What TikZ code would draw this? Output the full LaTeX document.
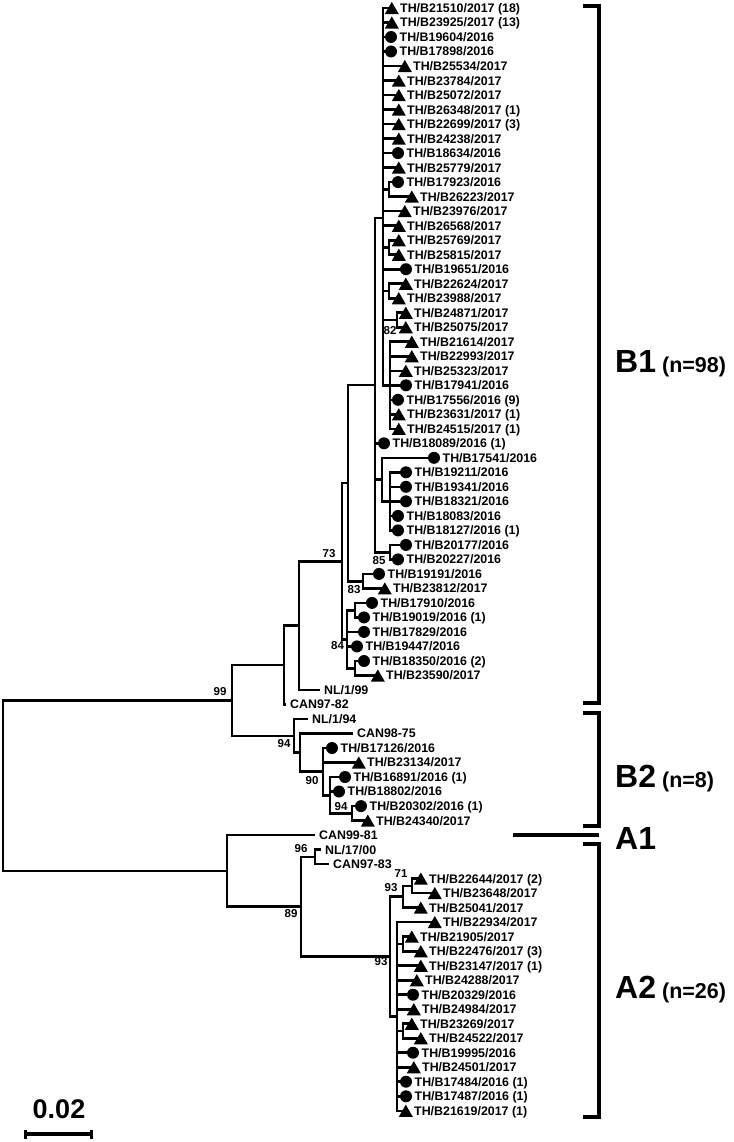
\documentclass[tikz,border=0pt]{standalone}
\usepackage{fontspec}
\setmainfont{Liberation Sans}
\usetikzlibrary{shapes.geometric}
\newcommand\leafC[4]{\coordinate (#1m) at ({#2+6},#3);
  \node[mcirc] (#1d) at (#1m) {};
  \node[lbl] (#1) at ({#2+14.5},#3) {#4};}
\newcommand\leafT[4]{\coordinate (#1m) at ({#2+6.8},#3);
  \node[mtri] (#1d) at ({#2+6.8},{#3+2.0}) {};
  \node[lbl] (#1) at ({#2+15},#3) {#4};}
\newcommand\leafN[4]{\coordinate (#1m) at (#2,#3);
  \node[lbl] (#1) at ({#2+4},#3) {#4};}
\newcommand\kids[2]{\foreach \kd in {#2} {\draw[tr] (#1) |- (\kd);}}
\begin{document}
\begin{tikzpicture}[x=1pt,y=-1pt,
  tr/.style={line width=2.6pt},
  brk/.style={line width=3.8pt},
  lbl/.style={font=\fontsize{12.4}{12.4}\selectfont\bfseries, anchor=west, inner sep=0pt, text height=8.9pt, text depth=0pt},
  bs/.style={font=\fontsize{11.5}{11.5}\selectfont\bfseries, inner sep=0pt, text height=8.3pt, text depth=0pt},
  mcirc/.style={circle, fill=black, inner sep=0pt, minimum size=12pt},
  mtri/.style={regular polygon, regular polygon sides=3, fill=black, inner sep=0pt, minimum size=16.2pt},
  grp/.style={font=\bfseries, anchor=base west, inner sep=0pt}
]
\fill[white] (0,0) rectangle (733,1142);
\useasboundingbox (0,0) rectangle (733,1142);

% internal nodes
\coordinate (R0) at (3,785.6);
\coordinate (NB) at (232,700.4);
\coordinate (NA) at (227,870.9);
\coordinate (NC) at (284,665.0);
\coordinate (ND) at (299,625.6);
\coordinate (N73) at (342,561.2);
\coordinate (NM) at (348,483.1);
\coordinate (NQ) at (375,385.1);
\coordinate (NP) at (383,218.0);
\coordinate (N1314) at (389,189.4);
\coordinate (N1718) at (389,247.5);
\coordinate (N2021) at (389,291.0);
\coordinate (N2223) at (397,320.0);
\coordinate (NR) at (390,385.3);
\coordinate (NV) at (382,479.6);
\coordinate (NW) at (390,501.4);
\coordinate (NX) at (390,552.2);
\coordinate (N83) at (363,581.2);
\coordinate (NY) at (347,639.2);
\coordinate (NZ) at (355,610.2);
\coordinate (NAA) at (355,668.2);
\coordinate (NB2) at (294,735.8);
\coordinate (NC1) at (300,752.6);
\coordinate (NC2) at (323,771.6);
\coordinate (NC3) at (330,795.2);
\coordinate (NC4) at (352,813.4);
\coordinate (NA2) at (301,906.7);
\coordinate (N96) at (315,856.9);
\coordinate (NT) at (390,956.6);
\coordinate (NU) at (403,896.7);
\coordinate (N71) at (412,885.9);
\coordinate (NL) at (397,1016.5);
\coordinate (NLA) at (403,943.9);
\coordinate (NLB) at (403,1031.0);

% leaves
\leafT{L1}{385}{8.0}{TH/B21510/2017 (18)}
\leafT{L2}{385}{22.5}{TH/B23925/2017 (13)}
\leafC{L3}{385}{37.0}{TH/B19604/2016}
\leafC{L4}{385}{51.5}{TH/B17898/2016}
\leafT{L5}{398}{66.0}{TH/B25534/2017}
\leafT{L6}{392}{80.6}{TH/B23784/2017}
\leafT{L7}{392}{95.1}{TH/B25072/2017}
\leafT{L8}{392}{109.6}{TH/B26348/2017 (1)}
\leafT{L9}{392}{124.1}{TH/B22699/2017 (3)}
\leafT{L10}{392}{138.6}{TH/B24238/2017}
\leafC{L11}{392}{153.1}{TH/B18634/2016}
\leafT{L12}{392}{167.6}{TH/B25779/2017}
\leafC{L13}{392}{182.1}{TH/B17923/2016}
\leafT{L14}{405}{196.6}{TH/B26223/2017}
\leafT{L15}{398}{211.1}{TH/B23976/2017}
\leafT{L16}{392}{225.7}{TH/B26568/2017}
\leafT{L17}{392}{240.2}{TH/B25769/2017}
\leafT{L18}{392}{254.7}{TH/B25815/2017}
\leafC{L19}{400}{269.2}{TH/B19651/2016}
\leafT{L20}{399}{283.7}{TH/B22624/2017}
\leafT{L21}{392}{298.2}{TH/B23988/2017}
\leafT{L22}{399}{312.7}{TH/B24871/2017}
\leafT{L23}{399}{327.2}{TH/B25075/2017}
\leafT{L24}{405}{341.7}{TH/B21614/2017}
\leafT{L25}{405}{356.2}{TH/B22993/2017}
\leafT{L26}{399}{370.8}{TH/B25323/2017}
\leafC{L27}{400}{385.3}{TH/B17941/2016}
\leafC{L28}{392}{399.8}{TH/B17556/2016 (9)}
\leafT{L29}{392}{414.3}{TH/B23631/2017 (1)}
\leafT{L30}{392}{428.8}{TH/B24515/2017 (1)}
\leafC{L31}{378}{443.3}{TH/B18089/2016 (1)}
\leafC{L32}{428}{457.8}{TH/B17541/2016}
\leafC{L33}{400}{472.3}{TH/B19211/2016}
\leafC{L34}{400}{486.8}{TH/B19341/2016}
\leafC{L35}{400}{501.3}{TH/B18321/2016}
\leafC{L36}{392}{515.9}{TH/B18083/2016}
\leafC{L37}{392}{530.4}{TH/B18127/2016 (1)}
\leafC{L38}{400}{544.9}{TH/B20177/2016}
\leafC{L39}{392}{559.4}{TH/B20227/2016}
\leafC{L40}{373}{573.9}{TH/B19191/2016}
\leafT{L41}{378}{588.4}{TH/B23812/2017}
\leafC{L42}{366}{602.9}{TH/B17910/2016}
\leafC{L43}{358}{617.4}{TH/B19019/2016 (1)}
\leafC{L44}{358}{631.9}{TH/B17829/2016}
\leafC{L45}{351}{646.4}{TH/B19447/2016}
\leafC{L46}{358}{661.0}{TH/B18350/2016 (2)}
\leafT{L47}{371}{675.5}{TH/B23590/2017}
\leafN{L48}{320}{690.0}{NL/1/99}
\leafN{L49}{286}{704.5}{CAN97-82}
\leafN{L50}{308}{719.0}{NL/1/94}
\leafN{L51}{353}{733.5}{CAN98-75}
\leafC{L52}{326}{748.0}{TH/B17126/2016}
\leafT{L53}{352}{762.5}{TH/B23134/2017}
\leafC{L54}{339}{777.0}{TH/B16891/2016 (1)}
\leafC{L55}{333}{791.5}{TH/B18802/2016}
\leafC{L56}{355}{806.1}{TH/B20302/2016 (1)}
\leafT{L57}{361}{820.6}{TH/B24340/2017}
\leafN{L58}{315}{835.1}{CAN99-81}
\leafN{L59}{321}{849.6}{NL/17/00}
\leafN{L60}{329}{864.1}{CAN97-83}
\leafT{L61}{414}{878.6}{TH/B22644/2017 (2)}
\leafT{L62}{428}{893.1}{TH/B23648/2017}
\leafT{L63}{414}{907.6}{TH/B25041/2017}
\leafT{L64}{428}{922.1}{TH/B22934/2017}
\leafT{L65}{405}{936.6}{TH/B21905/2017}
\leafT{L66}{414}{951.2}{TH/B22476/2017 (3)}
\leafT{L67}{414}{965.7}{TH/B23147/2017 (1)}
\leafT{L68}{410}{980.2}{TH/B24288/2017}
\leafC{L69}{407}{994.7}{TH/B20329/2016}
\leafT{L70}{407}{1009.2}{TH/B24984/2017}
\leafT{L71}{405}{1023.7}{TH/B23269/2017}
\leafT{L72}{414}{1038.2}{TH/B24522/2017}
\leafC{L73}{407}{1052.7}{TH/B19995/2016}
\leafT{L74}{407}{1067.2}{TH/B24501/2017}
\leafC{L75}{400}{1081.7}{TH/B17484/2016 (1)}
\leafC{L76}{400}{1096.3}{TH/B17487/2016 (1)}
\leafT{L77}{399}{1110.8}{TH/B21619/2017 (1)}

% branches
\kids{R0}{NB,NA}
\kids{NB}{NC,NB2}
\kids{NC}{ND,L49m}
\kids{ND}{N73,L48m}
\kids{N73}{NM,NY}
\kids{NM}{NQ,N83}
\kids{NQ}{NP,L31m,NV,NX}
\kids{NP}{L1m,L2m,L3m,L4m,L5m,L6m,L7m,L8m,L9m,L10m,L11m,L12m,N1314,L15m,L16m,N1718,L19m,N2021,N2223,NR}
\kids{N1314}{L13m,L14m}
\kids{N1718}{L17m,L18m}
\kids{N2021}{L20m,L21m}
\kids{N2223}{L22m,L23m}
\kids{NR}{L24m,L25m,L26m,L27m,L28m,L29m,L30m}
\kids{NV}{L32m,NW}
\kids{NW}{L33m,L34m,L35m,L36m,L37m}
\kids{NX}{L38m,L39m}
\kids{N83}{L40m,L41m}
\kids{NY}{NZ,L44m,L45m,NAA}
\kids{NZ}{L42m,L43m}
\kids{NAA}{L46m,L47m}
\kids{NB2}{L50m,NC1}
\kids{NC1}{L51m,NC2}
\kids{NC2}{L52m,L53m,NC3}
\kids{NC3}{L54m,L55m,NC4}
\kids{NC4}{L56m,L57m}
\kids{NA}{L58m,NA2}
\kids{NA2}{N96,NT}
\kids{N96}{L59m,L60m}
\kids{NT}{NU,NL}
\kids{NU}{N71,L63m}
\kids{N71}{L61m,L62m}
\kids{NL}{L64m,NLA,L67m,L68m,L69m,L70m,NLB,L73m,L74m,L75m,L76m,L77m}
\kids{NLA}{L65m,L66m}
\kids{NLB}{L71m,L72m}

% bootstrap values
\node[bs] (b99) at (220,691) {99};
\node[bs] (b73) at (329,553) {73};
\node[bs] (b83) at (354,589) {83};
\node[bs] (b84) at (337.5,645) {84};
\node[bs] (b85) at (379,560) {85};
\node[bs] (b82) at (390,330) {82};
\node[bs] (b94a) at (284,743) {94};
\node[bs] (b90) at (312,780) {90};
\node[bs] (b94b) at (341,806) {94};
\node[bs] (b96) at (301,848) {96};
\node[bs] (b89) at (291,913) {89};
\node[bs] (b93a) at (381,961) {93};
\node[bs] (b93b) at (391,887) {93};
\node[bs] (b71) at (401,873) {71};

% clade brackets
\draw[brk] (583,6) -- (599,6) -- (599,703) -- (583,703);
\draw[brk] (583,713) -- (599,713) -- (599,826) -- (583,826);
\draw[brk] (513,835) -- (599,835);
\draw[brk] (583,844) -- (599,844) -- (599,1117) -- (583,1117);
\node[grp] (gB1) at (615,372) {\fontsize{32}{32}\selectfont B1\hspace{6pt}\fontsize{21.5}{21.5}\selectfont(n=98)};
\node[grp] (gB2) at (615,787) {\fontsize{32}{32}\selectfont B2\hspace{6pt}\fontsize{21.5}{21.5}\selectfont(n=8)};
\node[grp] (gA1) at (615,849) {\fontsize{32}{32}\selectfont A1};
\node[grp] (gA2) at (615,998) {\fontsize{32}{32}\selectfont A2\hspace{6pt}\fontsize{21.5}{21.5}\selectfont(n=26)};

% scale bar
\draw[brk] (25,1134) -- (91,1134);
\draw[line width=3pt] (25,1129.5) -- (25,1138.5);
\draw[line width=3pt] (91,1129.5) -- (91,1138.5);
\node[font=\fontsize{27}{27}\selectfont\bfseries, anchor=base, inner sep=0pt] (sc) at (59,1118) {0.02};
\end{tikzpicture}
\end{document}
